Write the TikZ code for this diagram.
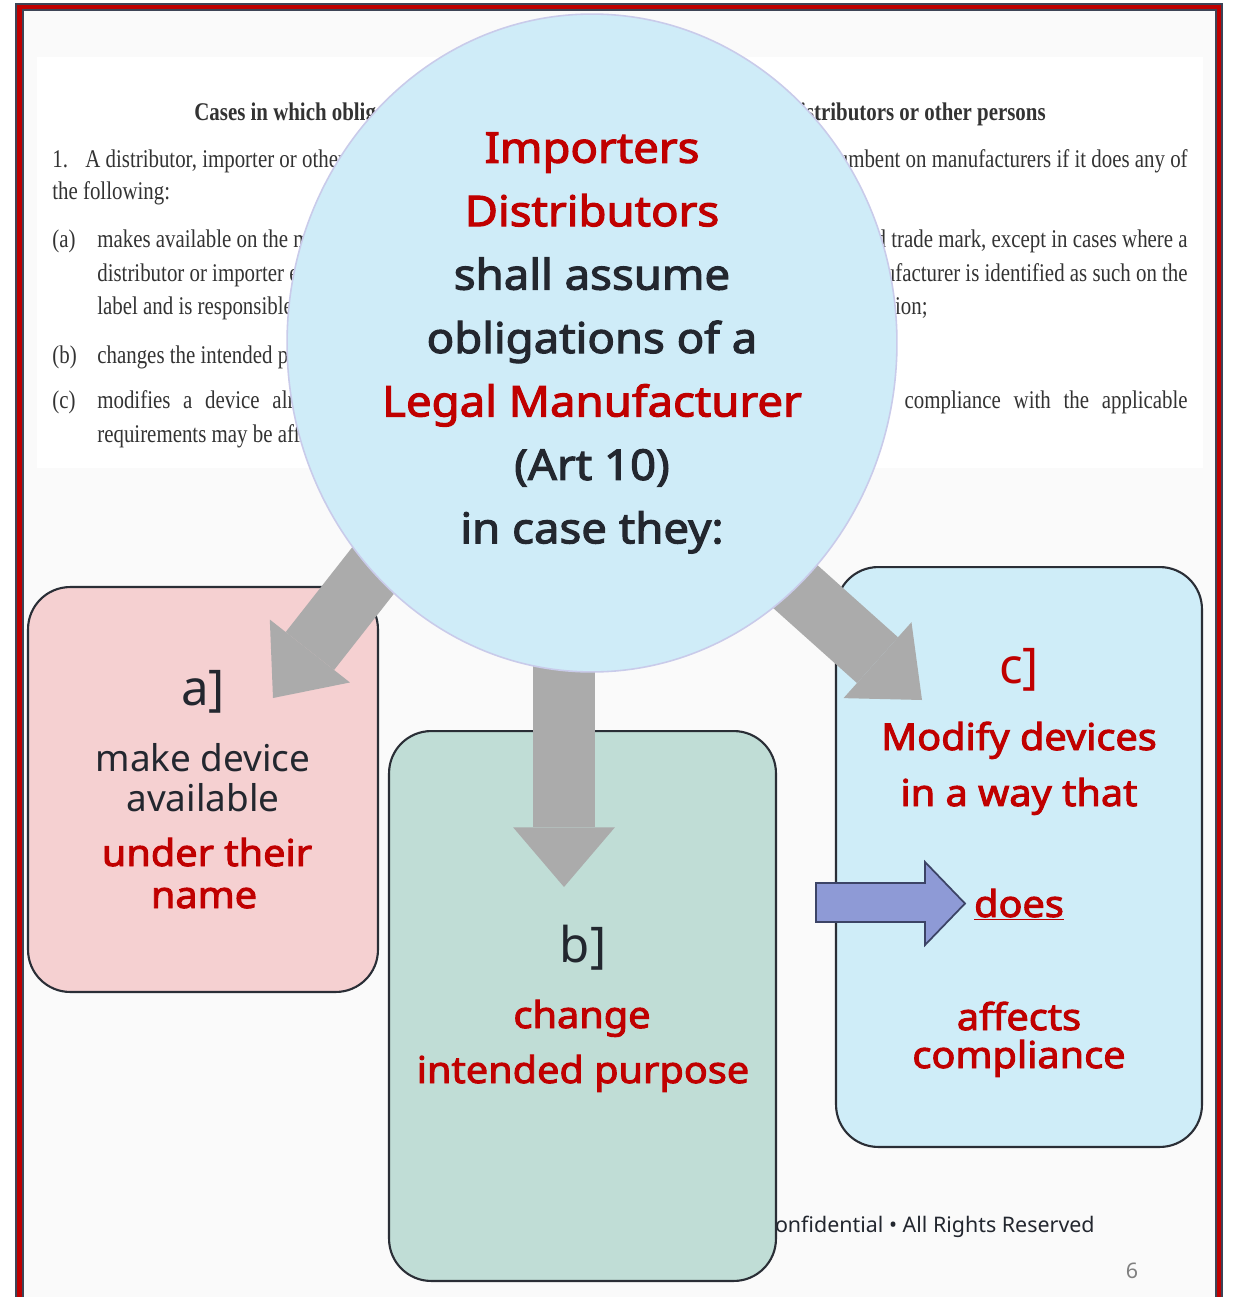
\documentclass[tikz,border=0pt]{standalone}
\usepackage{fontspec}
\setmainfont{Noto Sans}
\newfontfamily\strongfont{Noto Sans}[FakeBold=2.6, FakeStretch=1.075]
\newfontfamily\docfont[FakeStretch=0.82]{Liberation Serif}
\usepackage{xcolor}
\usepackage{tikz}
\usetikzlibrary{shapes.geometric, arrows.meta, positioning}
\definecolor{pagebg}{RGB}{250,250,250}
\definecolor{framedark}{RGB}{61,68,86}
\definecolor{framered}{RGB}{192,0,0}
\definecolor{hubfill}{RGB}{207,236,248}
\definecolor{hubline}{RGB}{201,203,234}
\definecolor{boxpink}{RGB}{245,208,209}
\definecolor{boxgreen}{RGB}{192,221,214}
\definecolor{boxblue}{RGB}{207,237,248}
\definecolor{boxline}{RGB}{42,46,54}
\definecolor{arrowgray}{RGB}{171,171,171}
\definecolor{doesfill}{RGB}{142,154,214}
\definecolor{doesline}{RGB}{60,68,102}
\definecolor{keyred}{RGB}{192,0,0}
\definecolor{inkdark}{RGB}{35,39,47}
\definecolor{doctext}{RGB}{51,51,51}
\tikzstyle{doc} = [font=\docfont\fontsize{14.5}{17}\selectfont, text=doctext,
inner sep=0pt, anchor=base west]
\tikzstyle{docR} = [doc, anchor=base east]
\tikzstyle{dochead} = [doc, font=\docfont\bfseries\fontsize{14.5}{17}\selectfont]
\tikzstyle{docheadR} = [dochead, anchor=base east]
\tikzstyle{casebox} = [rectangle, rounded corners=24pt, draw=boxline,
line width=1.2pt, inner sep=0pt]
\tikzstyle{hub} = [ellipse, fill=hubfill, draw=hubline, line width=0.9pt,
minimum width=12.2cm, minimum height=13.16cm, inner sep=0pt]
\tikzstyle{hubtext} = [align=center, inner sep=0pt,
font=\strongfont\fontsize{24.1}{36.1}\selectfont, text=inkdark]
\tikzstyle{bigarrow} = [draw=arrowgray, line width=35pt,
-{Triangle[length=34pt, width=58pt, line width=0pt]}]
\tikzstyle{tag} = [font=\fontsize{28}{30}\selectfont, text=inkdark, inner sep=0pt, anchor=base]
\tikzstyle{plain} = [font=\fontsize{21}{24}\selectfont, text=inkdark, inner sep=0pt, anchor=base]
\tikzstyle{key} = [font=\strongfont\fontsize{21}{24}\selectfont, text=keyred, inner sep=0pt, anchor=base]
\tikzstyle{foot} = [font=\fontsize{12.2}{14}\selectfont, text=inkdark, inner sep=0pt]

\begin{document}
\begin{tikzpicture}[x=0.02cm, y=-0.02cm]
    \useasboundingbox (0,0) rectangle (1233,1297);
    \clip (0,0) rectangle (1233,1297);
    \fill[white] (0,0) rectangle (1233,1297);
    \fill[pagebg] (19.5,7) rectangle (1219,1297);
    \draw[framedark, line width=4.8pt] (19.5,1310) |- (1219,7) -- (1219,1310);
    \draw[framered, line width=2.5pt] (19.5,1310) |- (1219,7) -- (1219,1310);

    % excerpt of the regulation
    \fill[white] (37,57) rectangle (1203,468);
    \node (headL) [dochead]  at (194,121)  {Cases in which obligations of};
    \node (headR) [docheadR] at (1046,121) {importers, distributors or other persons};
    \node (oneNo) [doc]  at (52,168)   {1.};
    \node (oneL)  [doc]  at (85,168)   {A distributor, importer or other natural};
    \node (oneR)  [docR] at (1188,168) {obligations incumbent on manufacturers if it does any of};
    \node (oneB)  [doc]  at (52,200)   {the following:};
    \node (aNo)   [doc]  at (52,248)   {(a)};
    \node (aL1)   [doc]  at (97,248)   {makes available on the market};
    \node (aR1)   [docR] at (1188,248) {registered trade mark, except in cases where a};
    \node (aL2)   [doc]  at (97,282)   {distributor or importer enters};
    \node (aR2)   [docR] at (1188,282) {the manufacturer is identified as such on the};
    \node (aL3)   [doc]  at (97,315)   {label and is responsible for};
    \node (aR3)   [docR] at (928,315)  {Regulation;};
    \node (bNo)   [doc]  at (52,363)   {(b)};
    \node (bL1)   [doc]  at (97,363)   {changes the intended purpose};
    \node (cNo)   [doc]  at (52,408)   {(c)};
    \node (cL1)   [doc]  at (97,408)   {\spaceskip=0.5em\relax modifies a device already};
    \node (cR1)   [docR] at (1188,408) {\spaceskip=0.5em\relax that compliance with the applicable};
    \node (cL2)   [doc]  at (97,442)   {requirements may be affected.};

    \node (footer)  [foot, anchor=base east] at (1095,1232) {Confidential • All Rights Reserved};
    \node (pagenum) [foot, anchor=base, text=gray] at (1132,1278) {6};

    % the three cases
    \node (boxA) [casebox, fill=boxpink, minimum width=7cm, minimum height=8.1cm]
        at (203,789.5) {};
    \node (boxB) [casebox, fill=boxgreen, minimum width=7.74cm, minimum height=11cm]
        at (582.5,1006) {};
    \node (boxC) [casebox, fill=boxblue, minimum width=7.32cm, minimum height=11.6cm]
        at (1019,857) {};

    \coordinate (startA) at (470,447);
    \coordinate (tipA)   at (273,698);
    \coordinate (startB) at (564,500);
    \coordinate (tipB)   at (564,887);
    \coordinate (startC) at (684,487);
    \coordinate (tipC)   at (922,700);
    \draw[bigarrow] (startA) -- (tipA);
    \draw[bigarrow] (startB) -- (tipB);
    \draw[bigarrow] (startC) -- (tipC);

    \node (hub) [hub] at (592,343) {};
    \node (hubText) [hubtext] at (hub.center)
        {{\color{keyred}Importers}\\ {\color{keyred}Distributors}\\ shall assume\\
         obligations of a\\ {\color{keyred}Legal Manufacturer}\\ (Art 10)\\ in case they:};

    \node (tagA)   [tag]   at (203,705) {a]};
    \node (makeA)  [plain] at (203,771) {make device};
    \node (availA) [plain] at (203,811) {available};
    \node (underA) [key]   at (207,866) {under their};
    \node (nameA)  [key]   at (204,908) {name};

    \node (tagB)    [tag] at (583,962)  {b]};
    \node (changeB) [key] at (582,1028) {change};
    \node (purpB)   [key] at (583,1083) {intended purpose};

    \node (tagC)    [tag, text=keyred] at (1019,683) {c]};
    \node (modC)    [key] at (1019,750)  {Modify devices};
    \node (wayC)    [key] at (1019,806)  {in a way that};
    \node (doesC)   [key] at (1019,917)  {\underline{does}};
    \node (affC)    [key] at (1019,1030) {affects};
    \node (compC)   [key] at (1019,1068) {compliance};

    \draw[fill=doesfill, draw=doesline, line width=1pt]
        (816,883) -- (925,883) -- (925,862) -- (965,903.5) -- (925,945) -- (925,922) -- (816,922) -- cycle;
\end{tikzpicture}
\end{document}
